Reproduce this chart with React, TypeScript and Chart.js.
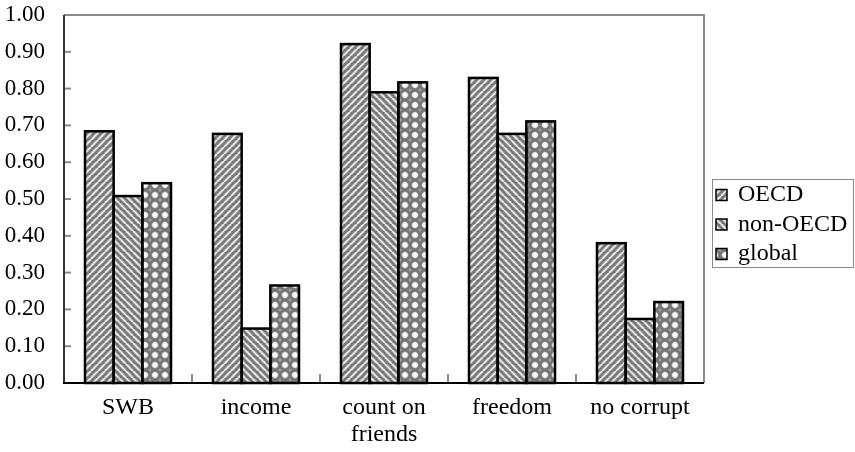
import React, { useEffect, useRef } from "react";
import { Chart, registerables } from "chart.js";

Chart.register(...registerables);

const categories: (string | string[])[] = ["SWB", "income", ["count on", "friends"], "freedom", "no corrupt"];
const seriesNames = ["OECD", "non-OECD", "global"];
const oecdValues = [0.684, 0.677, 0.921, 0.829, 0.38];
const nonOecdValues = [0.508, 0.148, 0.79, 0.677, 0.174];
const globalValues = [0.543, 0.265, 0.817, 0.711, 0.22];

const FONT = "'Liberation Serif', 'Times New Roman', serif";

function makeStripe(dir: 1 | -1): CanvasPattern | string {
  const s = 7;
  const c = document.createElement("canvas");
  c.width = s;
  c.height = s;
  const ctx = c.getContext("2d");
  if (!ctx) return "#888";
  ctx.fillStyle = "#747474";
  ctx.fillRect(0, 0, s, s);
  const draw = (w: number, col: string) => {
    ctx.strokeStyle = col;
    ctx.lineWidth = w;
    for (const off of [-s, 0, s]) {
      ctx.beginPath();
      if (dir === 1) {
        ctx.moveTo(off, s);
        ctx.lineTo(off + s, 0);
      } else {
        ctx.moveTo(off, 0);
        ctx.lineTo(off + s, s);
      }
      ctx.stroke();
    }
  };
  draw(3.0, "rgba(220,220,220,0.6)");
  draw(1.2, "#f8f8f8");
  return ctx.createPattern(c, "repeat") || "#888";
}

function makeDots(): CanvasPattern | string {
  const s = 10;
  const c = document.createElement("canvas");
  c.width = s;
  c.height = s;
  const ctx = c.getContext("2d");
  if (!ctx) return "#888";
  ctx.fillStyle = "#737373";
  ctx.fillRect(0, 0, s, s);
  for (const [x, y] of [[0, 0], [10, 0], [0, 10], [10, 10]]) {
    const g2 = ctx.createRadialGradient(x, y, 0, x, y, 3);
    g2.addColorStop(0, "#bdbdbd");
    g2.addColorStop(1, "rgba(115,115,115,0)");
    ctx.fillStyle = g2;
    ctx.beginPath();
    ctx.arc(x, y, 3, 0, Math.PI * 2);
    ctx.fill();
  }
  const g = ctx.createRadialGradient(5, 5, 0, 5, 5, 4.4);
  g.addColorStop(0, "#ffffff");
  g.addColorStop(0.55, "#f4f4f4");
  g.addColorStop(1, "rgba(115,115,115,0)");
  ctx.fillStyle = g;
  ctx.beginPath();
  ctx.arc(5, 5, 4.4, 0, Math.PI * 2);
  ctx.fill();
  return ctx.createPattern(c, "repeat") || "#888";
}

export default function App() {
  const ref = useRef<HTMLCanvasElement | null>(null);

  useEffect(() => {
    if (!ref.current) return;
    const fills = [makeStripe(1), makeStripe(-1), makeDots()];

    const decorPlugin = {
      id: "decor",
      afterDatasetsDraw(chart: any) {
        const ctx = chart.ctx as CanvasRenderingContext2D;
        ctx.save();
        ctx.strokeStyle = "#000";
        ctx.lineWidth = 2.5;
        chart.data.datasets.forEach((_d: any, i: number) => {
          const meta = chart.getDatasetMeta(i);
          meta.data.forEach((bar: any) => {
            const p = bar.getProps(["x", "y", "base", "width"], true);
            const l = p.x - p.width / 2;
            ctx.strokeRect(l, p.y, p.width, p.base - p.y);
          });
        });
        ctx.restore();
      },
      afterDraw(chart: any) {
        const ctx = chart.ctx as CanvasRenderingContext2D;
        const a = chart.chartArea;
        const ys = chart.scales.y;
        const xs = chart.scales.x;
        ctx.save();
        ctx.strokeStyle = "#8a8a8a";
        ctx.lineWidth = 2;
        ctx.beginPath();
        ctx.moveTo(a.left, a.top);
        ctx.lineTo(a.right, a.top);
        ctx.lineTo(a.right, a.bottom);
        ctx.stroke();
        ys.ticks.forEach((t: any) => {
          const y = ys.getPixelForValue(t.value);
          ctx.beginPath();
          ctx.moveTo(a.left, y);
          ctx.lineTo(a.left + 7, y);
          ctx.stroke();
        });
        const n = chart.data.labels.length;
        for (let i = 1; i < n; i++) {
          const x = (xs.getPixelForValue(i - 1) + xs.getPixelForValue(i)) / 2;
          ctx.beginPath();
          ctx.moveTo(x, a.bottom);
          ctx.lineTo(x, a.bottom - 9);
          ctx.stroke();
        }
        ctx.strokeStyle = "#333";
        ctx.lineWidth = 2;
        ctx.beginPath();
        ctx.moveTo(a.left, a.top);
        ctx.lineTo(a.left, a.bottom);
        ctx.stroke();
        ctx.strokeStyle = "#000";
        ctx.beginPath();
        ctx.moveTo(a.left - 1, a.bottom);
        ctx.lineTo(a.right, a.bottom);
        ctx.stroke();

        const lx = a.right + 8;
        const ly = 179;
        ctx.strokeStyle = "#8a8a8a";
        ctx.lineWidth = 1;
        ctx.strokeRect(lx + 0.5, ly + 0.5, 141, 88);
        ctx.font = `24px ${FONT}`;
        ctx.textBaseline = "middle";
        ctx.textAlign = "left";
        chart.data.datasets.forEach((d: any, i: number) => {
          const cy = 195 + i * 29.5;
          ctx.fillStyle = d.backgroundColor;
          ctx.fillRect(lx + 4, cy - 5.5, 11, 11);
          ctx.strokeStyle = "#000";
          ctx.lineWidth = 1.5;
          ctx.strokeRect(lx + 4, cy - 5.5, 11, 11);
          ctx.fillStyle = "#000";
          ctx.fillText(d.label, lx + 26, cy);
        });
        ctx.restore();
      },
    };

    const chart = new Chart(ref.current, {
      type: "bar",
      data: {
        labels: categories,
        datasets: [
          { label: seriesNames[0], data: oecdValues, backgroundColor: fills[0] as any, borderWidth: 0 },
          { label: seriesNames[1], data: nonOecdValues, backgroundColor: fills[1] as any, borderWidth: 0 },
          { label: seriesNames[2], data: globalValues, backgroundColor: fills[2] as any, borderWidth: 0 },
        ],
      },
      options: {
        animation: false,
        responsive: true,
        maintainAspectRatio: false,
        layout: { padding: { top: 15, right: 151, left: 0, bottom: 0 } },
        datasets: { bar: { categoryPercentage: 0.672, barPercentage: 1 } },
        plugins: { legend: { display: false }, tooltip: { enabled: false } },
        scales: {
          x: {
            grid: { display: false, drawTicks: false },
            border: { display: false },
            ticks: {
              color: "#000",
              font: { family: FONT, size: 24, lineHeight: 1.1 },
              padding: 12,
              maxRotation: 0,
              autoSkip: false,
            },
            afterFit: (s: any) => {
              s.height = 69;
              s.paddingLeft = 0;
              s.paddingRight = 0;
            },
          },
          y: {
            min: 0,
            max: 1,
            grid: { display: false, drawTicks: false },
            border: { display: false },
            ticks: {
              stepSize: 0.1,
              color: "#000",
              font: { family: FONT, size: 23 },
              padding: 19,
              callback: (v: any) => Number(v).toFixed(2),
            },
            afterFit: (s: any) => {
              s.width = 64;
              s.paddingTop = 0;
              s.paddingBottom = 0;
            },
          },
        },
      },
      plugins: [decorPlugin],
    });
    return () => chart.destroy();
  }, []);

  return (
    <div style={{ position: "fixed", left: 0, top: 0, width: 855, height: 452, background: "#fff" }}>
      <canvas ref={ref} />
    </div>
  );
}
